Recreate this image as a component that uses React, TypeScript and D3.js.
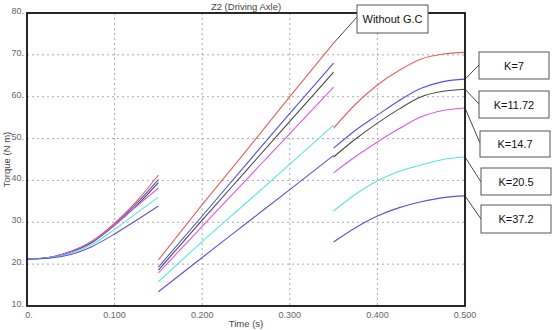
import React from 'react';
import * as d3 from 'd3';

// time samples for the three simulation phases
const t1 = [0, 0.025, 0.05, 0.075, 0.1, 0.125, 0.15];
const t2 = [0.15, 0.2, 0.25, 0.3, 0.35];
const t3 = [0.35, 0.375, 0.4, 0.425, 0.45, 0.475, 0.5];

const labels = ['Without G.C', 'K=7', 'K=11.72', 'K=14.7', 'K=20.5', 'K=37.2'];
const colors = ['#e4625f', '#5252e2', '#4a4a4a', '#e256e2', '#58e6e0', '#6050d2'];

// torque (N m) per series, phase 1
const phase1 = [
  [21.2, 21.6, 23.0, 25.6, 29.8, 35.0, 41.3],
  [21.2, 21.6, 23.0, 25.5, 29.5, 34.5, 40.2],
  [21.2, 21.6, 22.9, 25.3, 29.3, 34.0, 39.5],
  [21.2, 21.6, 23.0, 25.5, 29.4, 33.8, 38.2],
  [21.2, 21.5, 22.6, 24.8, 28.3, 32.2, 36.0],
  [21.2, 21.4, 22.3, 24.3, 27.2, 30.5, 33.9],
];
// phase 2
const phase2 = [
  [21.0, 34.2, 47.0, 60.0, 72.8],
  [19.3, 31.5, 43.8, 56.0, 68.0],
  [18.6, 30.5, 42.3, 54.1, 65.9],
  [17.9, 29.0, 40.1, 51.2, 62.3],
  [15.8, 25.4, 34.6, 43.9, 53.2],
  [13.4, 21.6, 29.7, 37.8, 46.0],
];
// phase 3
const phase3 = [
  [52.5, 58.2, 62.8, 66.3, 69.0, 70.2, 70.6],
  [47.7, 52.0, 55.6, 59.1, 62.0, 63.6, 64.2],
  [45.6, 49.9, 53.7, 57.1, 60.0, 61.3, 61.8],
  [41.8, 45.7, 49.2, 52.4, 55.2, 56.7, 57.3],
  [32.7, 36.7, 39.9, 42.2, 43.7, 45.0, 45.6],
  [25.3, 28.7, 31.5, 33.5, 34.9, 35.9, 36.3],
];

const xTicks = [0, 0.1, 0.2, 0.3, 0.4, 0.5];
const xTickLabels = ['0.', '0.100', '0.200', '0.300', '0.400', '0.500'];
const yTicks = [10, 20, 30, 40, 50, 60, 70, 80];

const W = 554;
const H = 330;
const plot = { left: 27, right: 465, top: 13, bottom: 306 };

// callout boxes: [x, y, w, h], which series and where along it the leader attaches
const callouts = [
  { box: [357, 5, 71, 28], series: 0, phase: 2, anchor: [357, 17] },
  { box: [479, 52, 70, 27], series: 1, phase: 3, anchor: [479, 65] },
  { box: [479, 91, 70, 27], series: 2, phase: 3, anchor: [479, 104] },
  { box: [480, 131, 70, 26], series: 3, phase: 3, anchor: [480, 143] },
  { box: [481, 168, 70, 27], series: 4, phase: 3, anchor: [481, 182] },
  { box: [481, 205, 70, 28], series: 5, phase: 3, anchor: [481, 219] },
];

const font = 'Arial, "Liberation Sans", Helvetica, sans-serif';

export default function App() {
  const x = d3.scaleLinear().domain([0, 0.5]).range([plot.left, plot.right]);
  const y = d3.scaleLinear().domain([10, 80]).range([plot.bottom, plot.top]);

  const line = d3
    .line<[number, number]>()
    .x((d) => x(d[0]))
    .y((d) => y(d[1]))
    .curve(d3.curveMonotoneX);

  const segments: { path: string; color: string }[] = [];
  labels.forEach((_, i) => {
    [
      [t1, phase1[i]],
      [t2, phase2[i]],
      [t3, phase3[i]],
    ].forEach(([ts, vs]) => {
      const pts = (ts as number[]).map((t, j) => [t, (vs as number[])[j]] as [number, number]);
      segments.push({ path: line(pts) || '', color: colors[i] });
    });
  });

  const endOf = (series: number, phase: number) => {
    const ts = phase === 2 ? t2 : t3;
    const vs = phase === 2 ? phase2[series] : phase3[series];
    return [x(ts[ts.length - 1]), y(vs[vs.length - 1])];
  };

  return (
    <svg
      width={W}
      height={H}
      style={{ position: 'absolute', left: 0, top: 0, background: '#fff' }}
      fontFamily={font}
    >
      {/* grid */}
      {xTicks.slice(1, -1).map((t) => (
        <line
          key={'gx' + t}
          x1={x(t)}
          x2={x(t)}
          y1={plot.top}
          y2={plot.bottom}
          stroke="#aaa"
          strokeDasharray="2,3"
        />
      ))}
      {yTicks.slice(1, -1).map((v) => (
        <line
          key={'gy' + v}
          x1={plot.left}
          x2={plot.right}
          y1={y(v)}
          y2={y(v)}
          stroke="#aaa"
          strokeDasharray="2,3"
        />
      ))}

      {/* series */}
      {segments.map((s, i) => (
        <path key={i} d={s.path} fill="none" stroke={s.color} strokeWidth={1.1} />
      ))}

      {/* frame */}
      <rect
        x={plot.left}
        y={plot.top}
        width={plot.right - plot.left}
        height={plot.bottom - plot.top}
        fill="none"
        stroke="#111"
        strokeWidth={1.8}
      />

      {/* tick labels */}
      {yTicks.map((v) => (
        <text
          key={'ty' + v}
          x={plot.left - 3}
          y={y(v) + 1}
          fontSize={9}
          fill="#666"
          textAnchor="end"
        >
          {v + '.'}
        </text>
      ))}
      {xTicks.map((t, i) => (
        <text
          key={'tx' + t}
          x={x(t) + (i === 0 ? 2 : 0)}
          y={plot.bottom + 12}
          fontSize={9}
          fill="#666"
          textAnchor="middle"
        >
          {xTickLabels[i]}
        </text>
      ))}

      {/* titles */}
      <text x={(plot.left + plot.right) / 2} y={10} fontSize={9.5} fill="#444" textAnchor="middle">
        Z2 (Driving Axle)
      </text>
      <text x={(plot.left + plot.right) / 2} y={327} fontSize={9.5} fill="#444" textAnchor="middle">
        Time (s)
      </text>
      <text
        transform={`translate(10,${(plot.top + plot.bottom) / 2}) rotate(-90)`}
        fontSize={9.5}
        fill="#444"
        textAnchor="middle"
      >
        Torque (N m)
      </text>

      {/* callouts */}
      {callouts.map((c, i) => {
        const [bx, by, bw, bh] = c.box;
        const [ex, ey] = endOf(c.series, c.phase);
        return (
          <g key={'c' + i}>
            <line x1={ex} y1={ey} x2={c.anchor[0]} y2={c.anchor[1]} stroke="#333" strokeWidth={0.9} />
            <rect x={bx} y={by} width={bw} height={bh} fill="#fff" stroke="#555" strokeWidth={1} />
            <text x={bx + bw / 2} y={by + bh / 2 + 4} fontSize={11} fill="#111" textAnchor="middle">
              {labels[c.series]}
            </text>
          </g>
        );
      })}
    </svg>
  );
}
